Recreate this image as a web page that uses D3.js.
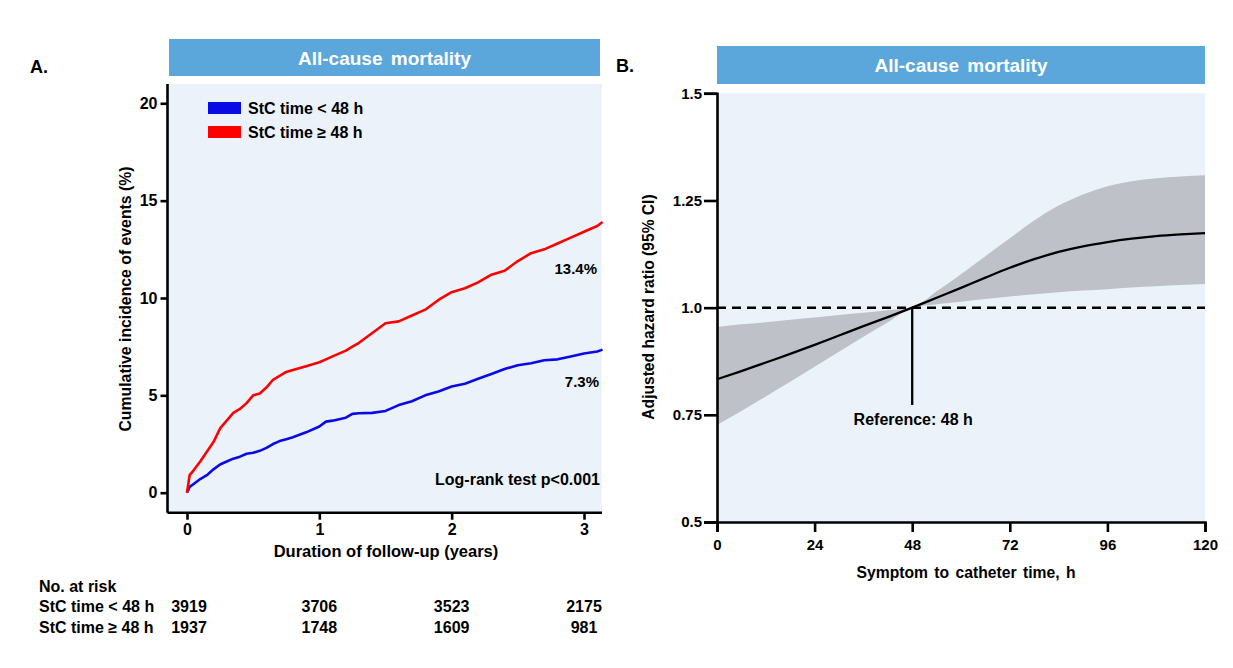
<!DOCTYPE html>
<html>
<head>
<meta charset="utf-8">
<script src="https://cdn.jsdelivr.net/npm/d3@7"></script>
<style>
  body { margin: 0; background: #fff; }
  svg text { font-family: "Liberation Sans", Arial, sans-serif; font-weight: bold; }
</style>
</head>
<body>
<div id="chart"></div>
<script>
"use strict"

// ---- panel A data (cumulative incidence, %)
var kmTime = [0, 0.02, 0.05, 0.1, 0.15, 0.2, 0.25, 0.3, 0.35, 0.4, 0.45, 0.5, 0.55, 0.6, 0.65, 0.7, 0.75, 0.8, 0.9, 1.0,
              1.05, 1.1, 1.2, 1.25, 1.3, 1.4, 1.5, 1.6, 1.7, 1.8, 1.9, 2.0, 2.1, 2.2, 2.3, 2.4, 2.5, 2.6, 2.7, 2.8, 2.9, 3.0, 3.1, 3.14]
var kmEarly = [0, 0.3, 0.45, 0.7, 0.9, 1.2, 1.45, 1.6, 1.75, 1.85, 2.0, 2.05, 2.15, 2.3, 2.5, 2.65, 2.75, 2.85, 3.1, 3.4,
               3.65, 3.7, 3.85, 4.05, 4.08, 4.1, 4.2, 4.5, 4.7, 5.0, 5.2, 5.45, 5.6, 5.85, 6.1, 6.35, 6.55, 6.65, 6.8, 6.85, 7.0, 7.15, 7.25, 7.35]
var kmLate = [0, 0.9, 1.15, 1.6, 2.1, 2.6, 3.3, 3.7, 4.1, 4.3, 4.6, 5.0, 5.1, 5.4, 5.8, 6.0, 6.2, 6.3, 6.5, 6.7,
              6.85, 7.0, 7.3, 7.5, 7.7, 8.2, 8.7, 8.8, 9.1, 9.4, 9.9, 10.3, 10.5, 10.8, 11.2, 11.4, 11.9, 12.3, 12.5, 12.8, 13.1, 13.4, 13.7, 13.9]
var seriesNames = ["StC time < 48 h", "StC time \u2265 48 h"]
var endLabels = ["7.3%", "13.4%"]
var kmYTicks = [0, 5, 10, 15, 20]
var kmXTicks = [0, 1, 2, 3]
var riskEarly = [3919, 3706, 3523, 2175]
var riskLate = [1937, 1748, 1609, 981]

// ---- panel B data (spline HR)
var hrHours = [0, 6, 12, 18, 24, 30, 36, 42, 48, 54, 60, 66, 72, 78, 84, 90, 96, 102, 108, 114, 120]
var hrEst = [0.833, 0.852, 0.872, 0.892, 0.913, 0.935, 0.957, 0.978, 1.0, 1.023, 1.046, 1.07, 1.093, 1.113, 1.13, 1.143, 1.153, 1.161, 1.167, 1.171, 1.174]
var hrUpper = [0.955, 0.961, 0.966, 0.972, 0.977, 0.983, 0.988, 0.994, 1.0, 1.038, 1.078, 1.12, 1.162, 1.203, 1.238, 1.264, 1.283, 1.295, 1.302, 1.306, 1.309]
var hrLower = [0.726, 0.759, 0.793, 0.827, 0.862, 0.897, 0.932, 0.966, 1.0, 1.008, 1.014, 1.02, 1.026, 1.031, 1.036, 1.04, 1.043, 1.047, 1.05, 1.053, 1.055]
var hrXTicks = [0, 24, 48, 72, 96, 120]
var hrYTicks = [0.5, 0.75, 1.0, 1.25, 1.5]
var hrYLabels = ["0.5", "0.75", "1.0", "1.25", "1.5"]

var W = 1233, H = 668
var headerBlue = "#5ba7db", plotBg = "#ebf2fa"

var svg = d3.select("#chart").append("svg")
    .attr("width", W)
    .attr("height", H)

function header(x0, x1, y0, y1, label) {
    svg.append("rect")
        .attr("x", x0).attr("y", y0)
        .attr("width", x1 - x0).attr("height", y1 - y0)
        .attr("fill", headerBlue)
    svg.append("text")
        .attr("x", (x0 + x1) / 2).attr("y", (y0 + y1) / 2 + 7)
        .attr("text-anchor", "middle")
        .attr("fill", "#fff")
        .attr("font-size", 19)
        .attr("word-spacing", 3)
        .text(label)
}

function styleAxis(g, size) {
    g.selectAll(".domain").attr("stroke", "#000").attr("stroke-width", 2.6)
    g.selectAll(".tick line").attr("stroke", "#000").attr("stroke-width", 2.6)
    g.selectAll(".tick text").attr("fill", "#000").attr("font-size", size)
}

/**
 panel A: cumulative incidence
*/
var xA = d3.scaleLinear().domain([0, 3]).range([187, 584])
var yA = d3.scaleLinear().domain([0, 20]).range([492.7, 103.3])
var axA = { left: 167.5, right: 602, top: 84, bottom: 512.7 }

svg.append("text").attr("x", 30).attr("y", 73).attr("font-size", 18).text("A.")
header(169, 600, 39, 76, "All-cause mortality")

svg.append("rect")
    .attr("x", axA.left).attr("y", axA.top)
    .attr("width", axA.right - axA.left).attr("height", axA.bottom - axA.top)
    .attr("fill", plotBg)

var lineA = d3.line()
    .x(function(d) { return xA(d.t) })
    .y(function(d) { return yA(d.v) })

var kmSeries = [
    { name: seriesNames[0], color: "#0a0ae6", values: kmEarly },
    { name: seriesNames[1], color: "#ff0000", values: kmLate }
]

kmSeries.forEach(function(s) {
    var pts = kmTime.map(function(t, i) { return { t: t, v: s.values[i] } })
    svg.append("path")
        .attr("d", lineA(pts))
        .attr("fill", "none")
        .attr("stroke", s.color)
        .attr("stroke-width", 2.6)
        .attr("stroke-linejoin", "round")
})

// axes A
var gyA = svg.append("g")
    .attr("transform", "translate(" + axA.left + ",0)")
    .call(d3.axisLeft(yA).tickValues(kmYTicks).tickSize(7).tickPadding(3))
gyA.select(".domain").attr("d", "M0," + axA.top + "V" + axA.bottom)
styleAxis(gyA, 16)

var gxA = svg.append("g")
    .attr("transform", "translate(0," + axA.bottom + ")")
    .call(d3.axisBottom(xA).tickValues(kmXTicks).tickSize(7).tickPadding(4).tickFormat(d3.format("d")))
gxA.select(".domain").attr("d", "M" + axA.left + ",0H" + axA.right)
styleAxis(gxA, 16)

svg.append("text")
    .attr("transform", "translate(131,299) rotate(-90)")
    .attr("text-anchor", "middle")
    .attr("font-size", 15.8)
    .text("Cumulative incidence of events (%)")

svg.append("text")
    .attr("x", 386).attr("y", 557)
    .attr("text-anchor", "middle")
    .attr("font-size", 16.5)
    .text("Duration of follow-up (years)")

// legend
kmSeries.forEach(function(s, i) {
    var y = 102 + i * 24
    svg.append("rect")
        .attr("x", 208).attr("y", y)
        .attr("width", 33).attr("height", 12)
        .attr("fill", s.color)
    svg.append("text")
        .attr("x", 248).attr("y", y + 12)
        .attr("font-size", 16)
        .text(s.name)
})

svg.append("text").attr("x", 599).attr("y", 387).attr("text-anchor", "end")
    .attr("font-size", 15).text(endLabels[0])
svg.append("text").attr("x", 597).attr("y", 274).attr("text-anchor", "end")
    .attr("font-size", 15).text(endLabels[1])
svg.append("text").attr("x", 600).attr("y", 485).attr("text-anchor", "end")
    .attr("font-size", 16).text("Log-rank test p<0.001")

// numbers at risk
svg.append("text").attr("x", 39).attr("y", 592).attr("font-size", 16).text("No. at risk")
var riskRows = [riskEarly, riskLate]
riskRows.forEach(function(row, r) {
    var y = 612 + r * 21
    svg.append("text").attr("x", 39).attr("y", y).attr("font-size", 16).text(seriesNames[r])
    row.forEach(function(n, i) {
        svg.append("text")
            .attr("x", xA(kmXTicks[i]) + (i == 0 ? 2 : 0))
            .attr("y", y)
            .attr("text-anchor", "middle")
            .attr("font-size", 16)
            .text(n)
    })
})

/**
 panel B: restricted cubic spline
*/
var xB = d3.scaleLinear().domain([0, 120]).range([717, 1205])
var yB = d3.scaleLinear().domain([0.5, 1.5]).range([522, 93.3])

svg.append("text").attr("x", 616).attr("y", 72).attr("font-size", 18).text("B.")
header(717, 1205, 46, 84, "All-cause mortality")

svg.append("rect")
    .attr("x", 717).attr("y", 93.3)
    .attr("width", 1205 - 717).attr("height", 522 - 93.3)
    .attr("fill", plotBg)

var band = d3.area()
    .x(function(d, i) { return xB(hrHours[i]) })
    .y0(function(d, i) { return yB(hrLower[i]) })
    .y1(function(d, i) { return yB(hrUpper[i]) })
    .curve(d3.curveMonotoneX)

svg.append("path")
    .attr("d", band(hrHours))
    .attr("fill", "#bec2c8")

// reference line at HR = 1
svg.append("line")
    .attr("x1", xB(0)).attr("x2", xB(120))
    .attr("y1", yB(1)).attr("y2", yB(1))
    .attr("stroke", "#000")
    .attr("stroke-width", 2.5)
    .attr("stroke-dasharray", "9,6")

var lineB = d3.line()
    .x(function(d, i) { return xB(hrHours[i]) })
    .y(function(d, i) { return yB(hrEst[i]) })
    .curve(d3.curveMonotoneX)

svg.append("path")
    .attr("d", lineB(hrHours))
    .attr("fill", "none")
    .attr("stroke", "#000")
    .attr("stroke-width", 2.3)

svg.append("line")
    .attr("x1", xB(48)).attr("x2", xB(48))
    .attr("y1", yB(1)).attr("y2", yB(0.773))
    .attr("stroke", "#000")
    .attr("stroke-width", 2.3)

svg.append("text")
    .attr("x", xB(48) + 1).attr("y", 425)
    .attr("text-anchor", "middle")
    .attr("font-size", 16)
    .text("Reference: 48 h")

var gyB = svg.append("g")
    .attr("transform", "translate(717,0)")
    .call(d3.axisLeft(yB).tickValues(hrYTicks).tickSize(13).tickPadding(2)
        .tickFormat(function(d, i) { return hrYLabels[i] }))
styleAxis(gyB, 15)

var gxB = svg.append("g")
    .attr("transform", "translate(0,522)")
    .call(d3.axisBottom(xB).tickValues(hrXTicks).tickSize(10).tickPadding(7))
styleAxis(gxB, 15)

svg.append("text")
    .attr("transform", "translate(654,307) rotate(-90)")
    .attr("text-anchor", "middle")
    .attr("font-size", 15.6)
    .text("Adjusted hazard ratio (95% CI)")

svg.append("text")
    .attr("x", 966).attr("y", 578)
    .attr("text-anchor", "middle")
    .attr("font-size", 15.7)
    .attr("word-spacing", 2)
    .text("Symptom to catheter time, h")
</script>
</body>
</html>
